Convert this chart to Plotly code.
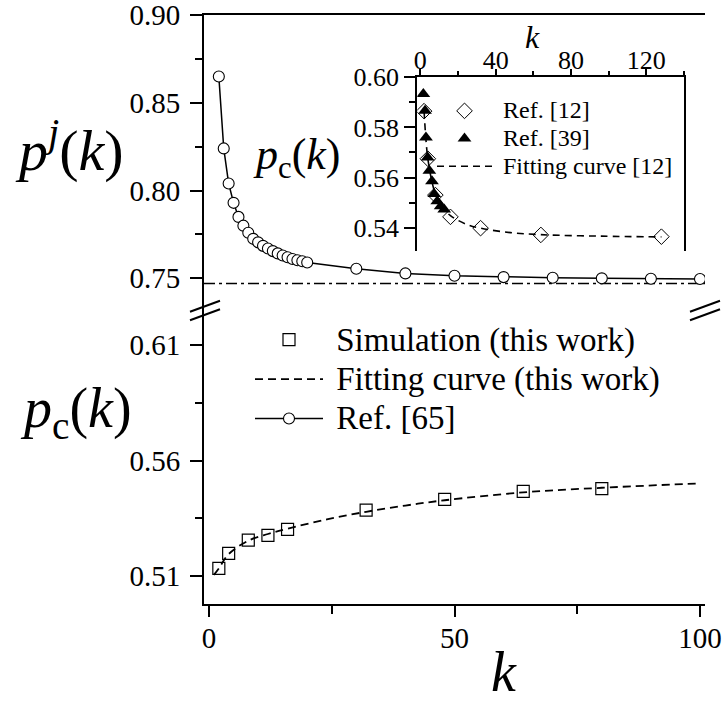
import plotly.graph_objects as go

# ---------------- data ----------------
# main bottom panel: simulation (this work)
sim_k = [2, 4, 8, 12, 16, 32, 48, 64, 80]
sim_p = [0.5133, 0.5198, 0.5255, 0.5276, 0.5302, 0.5385, 0.5432, 0.5466, 0.5478]

# fitting curve (this work)
fit_k = [1, 2, 4, 8, 12, 16, 24, 32, 40, 48, 64, 80, 100]
fit_p = [0.5105, 0.5133, 0.5195, 0.5253, 0.5282, 0.5305, 0.5345, 0.5378,
         0.5405, 0.5428, 0.5462, 0.5482, 0.5501]

# Ref. [65]  p^j(k)
ref65_k = [2, 3, 4, 5, 6, 7, 8, 9, 10, 11, 12, 13, 14, 15, 16, 17, 18, 19, 20,
           30, 40, 50, 60, 70, 80, 90, 100]
ref65_p = [0.865, 0.824, 0.804, 0.793, 0.785, 0.780, 0.776, 0.7725, 0.7705,
           0.7685, 0.767, 0.7655, 0.7642, 0.763, 0.762, 0.761, 0.7603, 0.7597,
           0.759, 0.7555, 0.7528, 0.7515, 0.7507, 0.7503, 0.7500, 0.7498, 0.7496]

# asymptote p^j(inf)
pj_inf = 0.747

# inset: Ref. [12]
ref12_k = [2, 4, 8, 16, 32, 64, 128]
ref12_p = [0.5865, 0.5675, 0.553, 0.5443, 0.5398, 0.5371, 0.5364]

# inset: Ref. [39]
ref39_k = [1.6, 2.5, 3.0, 3.9, 4.8, 6.2, 7.4, 9.0, 10.8, 12.7]
ref39_p = [0.5933, 0.5867, 0.5760, 0.5680, 0.5627, 0.5585, 0.5534, 0.5505,
           0.5485, 0.5472]

# inset: fitting curve [12]
fit12_k = [2, 3, 4, 6, 8, 12, 16, 24, 32, 48, 64, 96, 128]
fit12_p = [0.5865, 0.575, 0.5675, 0.559, 0.5535, 0.548, 0.5448, 0.5415,
           0.5398, 0.538, 0.5372, 0.5366, 0.5363]

# axes
main_x_range = [-1.02, 101.02]
main_x_ticks = [0, 50, 100]
bot_y_range = [0.4979, 0.626]
bot_y_ticks = [0.51, 0.56, 0.61]
top_y_range = [0.7331, 0.90]
top_y_ticks = [0.75, 0.80, 0.85, 0.90]
ins_x_range = [-1.6, 140]
ins_x_ticks = [0, 40, 80, 120]
ins_y_range = [0.5308, 0.60]
ins_y_ticks = [0.54, 0.56, 0.58, 0.60]

# ---------------- layout helpers ----------------
FW, FH = 722, 702
FONT = "Liberation Serif, Times New Roman, Times, DejaVu Serif, serif"


def px(x):
    return x / FW


def py(y):
    return 1 - y / FH


def big(txt, size):
    return '<span style="font-size:%dpx">\u00a0%s</span>' % (size, txt)


fig = go.Figure()

# bottom panel
fig.add_trace(go.Scatter(
    x=sim_k, y=sim_p, mode="markers", name=big("Simulation (this work)", 33),
    marker=dict(symbol="square-open", size=12, color="black", line=dict(width=1.2)),
    xaxis="x", yaxis="y", legend="legend", legendrank=1))
fig.add_trace(go.Scatter(
    x=fit_k, y=fit_p, mode="lines", name=big("Fitting curve (this work)", 33),
    line=dict(color="black", width=1.8, dash="8px,5px", shape="spline"),
    xaxis="x", yaxis="y", legend="legend", legendrank=2))

# top panel
fig.add_trace(go.Scatter(
    x=main_x_range, y=[pj_inf, pj_inf], mode="lines", showlegend=False,
    line=dict(color="black", width=1.5, dash="11px,4px,3px,4px"),
    xaxis="x2", yaxis="y2", hoverinfo="skip"))
fig.add_trace(go.Scatter(
    x=ref65_k, y=ref65_p, mode="lines+markers", name=big("Ref. [65]", 33),
    line=dict(color="black", width=1.5),
    marker=dict(symbol="circle", size=11, color="white",
                line=dict(color="black", width=1.1)),
    xaxis="x2", yaxis="y2", legend="legend", legendrank=3))

# inset
fig.add_trace(go.Scatter(
    x=ref12_k, y=ref12_p, mode="markers", name=big("Ref. [12]", 24),
    marker=dict(symbol="diamond-open", size=12, color="black", line=dict(width=1)),
    xaxis="x5", yaxis="y5", legend="legend2", legendrank=1))
fig.add_trace(go.Scatter(
    x=ref39_k, y=ref39_p, mode="markers", name=big("Ref. [39]", 24),
    marker=dict(symbol="triangle-up", size=12, color="black"),
    xaxis="x5", yaxis="y5", legend="legend2", legendrank=2))
fig.add_trace(go.Scatter(
    x=fit12_k, y=fit12_p, mode="lines", name=big("Fitting curve [12]", 24),
    line=dict(color="black", width=1.6, dash="7px,5px", shape="spline"),
    xaxis="x5", yaxis="y5", legend="legend2", legendrank=3))

tickfont = dict(family=FONT, size=29, color="black")
insfont = dict(family=FONT, size=26, color="black")
main_dom_x = [px(204), px(705)]
bot_dom = [py(604), py(308)]
top_dom = [py(308), py(15)]
ins_dom_x = [px(417.3), px(684)]
ins_dom_y = [py(250.7), py(77.3)]

axcommon = dict(showline=True, linecolor="black", linewidth=2, showgrid=False,
                zeroline=False, ticklen=12, tickwidth=2, tickcolor="black",
                automargin=False, ticklabeloverflow="allow")

fig.update_layout(
    template="none",
    width=FW, height=FH, margin=dict(l=0, r=0, t=0, b=0, autoexpand=False),
    paper_bgcolor="white", plot_bgcolor="white",
    font=dict(family=FONT, color="black"),
    xaxis=dict(domain=main_dom_x, range=main_x_range, anchor="y",
               tickvals=main_x_ticks, ticks="outside", tickfont=tickfont,
               ticklabelstandoff=-4,
               minor=dict(dtick=25, tick0=0, ticks="outside", ticklen=8,
                          tickwidth=2, tickcolor="black"),
               **{**axcommon, "ticklen": 11}),
    yaxis=dict(domain=bot_dom, range=bot_y_range, anchor="x",
               tickvals=bot_y_ticks, tickformat=".2f", ticks="outside",
               tickfont=tickfont, ticklabelstandoff=4,
               minor=dict(tickvals=[0.535, 0.585], ticks="outside", ticklen=7,
                          tickwidth=2, tickcolor="black"),
               **axcommon),
    yaxis3=dict(domain=bot_dom, range=bot_y_range, anchor="x", overlaying="y",
                side="right", tickvals=bot_y_ticks, ticks="inside",
                showticklabels=False,
                minor=dict(tickvals=[0.535, 0.585], ticks="inside", ticklen=5,
                           tickwidth=1.5, tickcolor="black"),
                **{**axcommon, "ticklen": 6, "tickwidth": 1.5}),
    xaxis2=dict(domain=main_dom_x, range=main_x_range, anchor="y2", side="top",
                showticklabels=False, ticks="", **axcommon),
    yaxis2=dict(domain=top_dom, range=top_y_range, anchor="x2",
                tickvals=top_y_ticks, tickformat=".2f", ticks="outside",
                tickfont=tickfont, ticklabelstandoff=4,
                minor=dict(tickvals=[0.775, 0.825, 0.875], ticks="outside",
                           ticklen=7, tickwidth=2, tickcolor="black"),
                **axcommon),
    yaxis4=dict(domain=top_dom, range=top_y_range, anchor="x2", overlaying="y2",
                side="right", tickvals=top_y_ticks, ticks="inside",
                showticklabels=False,
                minor=dict(tickvals=[0.775, 0.825, 0.875], ticks="inside",
                           ticklen=5, tickwidth=1.5, tickcolor="black"),
                **{**axcommon, "ticklen": 6, "tickwidth": 1.5}),
    xaxis5=dict(domain=ins_dom_x, range=ins_x_range, anchor="y5", side="top",
                tickvals=ins_x_ticks, ticks="outside", tickfont=insfont,
                ticklabelstandoff=-10,
                minor=dict(dtick=20, tick0=0, ticks="outside", ticklen=4,
                           tickwidth=1.5, tickcolor="black"),
                **{**axcommon, "ticklen": 6}),
    xaxis6=dict(domain=ins_dom_x, range=ins_x_range, anchor="y5",
                overlaying="x5", side="bottom", tickvals=ins_x_ticks,
                ticks="inside", showticklabels=False,
                minor=dict(dtick=20, tick0=0, ticks="inside", ticklen=4,
                           tickwidth=1.5, tickcolor="black"),
                **{**axcommon, "ticklen": 5, "tickwidth": 1.5}),
    yaxis5=dict(domain=ins_dom_y, range=ins_y_range, anchor="x5",
                tickvals=ins_y_ticks, tickformat=".2f", ticks="outside",
                tickfont=insfont, mirror=True,
                minor=dict(tickvals=[0.55, 0.57, 0.59], ticks="outside",
                           ticklen=6, tickwidth=1.5, tickcolor="black"),
                **{**axcommon, "ticklen": 11}),
    legend=dict(x=px(250), y=py(315), xanchor="left", yanchor="top",
                bgcolor="rgba(0,0,0,0)", font=dict(family=FONT, size=28),
                itemwidth=68, tracegroupgap=0, traceorder="normal"),
    legend2=dict(x=px(432), y=py(92), xanchor="left", yanchor="top",
                 bgcolor="rgba(0,0,0,0)", font=dict(family=FONT, size=19),
                 itemwidth=55, tracegroupgap=0, traceorder="normal"),
    showlegend=True,
)

# axis-break marks
for xc in (205, 705):
    for dy in (0, 8.5):
        fig.add_shape(type="line", xref="paper", yref="paper",
                      x0=px(xc - 15), y0=py(311.7 + dy), x1=px(xc + 15),
                      y1=py(300.7 + dy), line=dict(color="black", width=2))

ann = [
    ("<i>p</i><sup><i>j</i></sup>(<i>k</i>)", 69, 146, 58),
    ("<i>p</i><sub>c</sub>(<i>k</i>)", 76, 412, 56),
    ("<i>p</i><sub>c</sub>(<i>k</i>)", 297, 157, 44),
    ("<i>k</i>", 504, 672, 56),
    ("<i>k</i>", 532, 37, 32),
]
for txt, x, y, s in ann:
    fig.add_annotation(text=txt, x=px(x), y=py(y), xref="paper", yref="paper",
                       showarrow=False, xanchor="center", yanchor="middle",
                       font=dict(family=FONT, size=s, color="black"))

fig.write_html("out.html",
               config={"displayModeBar": False},
               post_script="document.body.style.margin='0px';"
                           "document.body.style.overflow='hidden';")
